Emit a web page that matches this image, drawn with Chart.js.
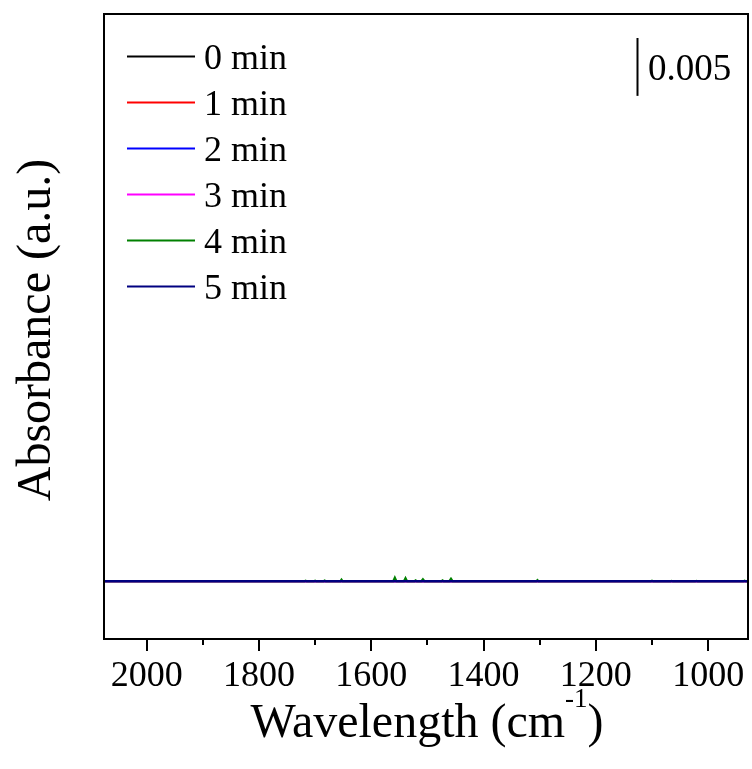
<!DOCTYPE html>
<html>
<head>
<meta charset="utf-8">
<script src="https://cdn.jsdelivr.net/npm/chart.js@4/dist/chart.umd.min.js"></script>
<style>
  html, body { margin: 0; padding: 0; background: #fff; }
  canvas { display: block; }
</style>
</head>
<body>
<canvas id="c" width="752" height="769"></canvas>
<script>
// ---- data ----
const seriesNames = ['0 min', '1 min', '2 min', '3 min', '4 min', '5 min'];
const seriesColors = ['#000000', '#ff0000', '#0000ff', '#ff00ff', '#008000', '#000080'];

// flat baselines (0, 1, 2, 3, 5 min)
const baselineWavenumbers = [2076, 929];
const min0 = [0, 0];
const min1 = [0, 0];
const min2 = [0, 0];
const min3 = [0, 0];
const min5 = [0, 0];

// 4 min spectrum: small sharp features
const wavenumbers4 = [2076,
  1719, 1717, 1715, 1702, 1700, 1698, 1685, 1683, 1681,
  1655, 1653, 1651, 1561, 1558, 1555, 1542, 1539, 1536,
  1523, 1521, 1519, 1511, 1508, 1505, 1475, 1473, 1471,
  1461, 1458, 1455, 1306, 1304, 1302, 1102, 1100, 1098,
  1067, 1065, 1063, 1023, 1021, 1019, 937, 935, 933,
  929];
const min4 = [0,
  0, 0.00005, 0, 0, 0.00005, 0, 0, 0.00006, 0,
  0, 0.00014, 0, 0, 0.00032, 0, 0, 0.00028, 0,
  0, 0.00008, 0, 0, 0.00018, 0, 0, 0.00007, 0,
  0, 0.00022, 0, 0, 0.00010, 0, 0, 0.00004, 0,
  0, 0.00003, 0, 0, 0.00003, 0, 0, 0.00004, 0,
  0];

const xMin = 929, xMax = 2076;
const yMin = -0.005, yMax = 0.049;
const majorTicks = [2000, 1800, 1600, 1400, 1200, 1000];
const minorTicks = [1900, 1700, 1500, 1300, 1100];
const scaleBarValue = 0.005;
const scaleBarLabel = '0.005';
const xTitle = 'Wavelength (cm';
const xTitleSup = '-1';
const xTitleEnd = ')';
const yTitle = 'Absorbance (a.u.)';

function pts(xs, ys) { return xs.map((w, i) => ({ x: w, y: ys[i] })); }

const seriesData = [
  pts(baselineWavenumbers, min0),
  pts(baselineWavenumbers, min1),
  pts(baselineWavenumbers, min2),
  pts(baselineWavenumbers, min3),
  pts(wavenumbers4, min4),
  pts(baselineWavenumbers, min5)
];
const drawOrder = [6, 5, 4, 3, 1, 0]; // 5 min on top

const SERIF = "'Liberation Serif', 'Times New Roman', serif";

const decorPlugin = {
  id: 'decor',
  afterDraw(chart) {
    const { ctx, chartArea: a, scales } = chart;
    const x = scales.x, y = scales.y;
    ctx.save();
    ctx.strokeStyle = '#000';
    ctx.fillStyle = '#000';
    // frame
    ctx.lineWidth = 2;
    ctx.strokeRect(a.left, a.top, a.right - a.left, a.bottom - a.top);
    // ticks
    const tick = (v, len) => {
      const px = Math.round(x.getPixelForValue(v));
      ctx.beginPath(); ctx.moveTo(px, a.bottom); ctx.lineTo(px, a.bottom + len); ctx.stroke();
    };
    majorTicks.forEach(v => tick(v, 12));
    minorTicks.forEach(v => tick(v, 6));
    // legend
    ctx.font = '36px ' + SERIF;
    ctx.textBaseline = 'alphabetic';
    ctx.textAlign = 'left';
    seriesNames.forEach((n, i) => {
      const ly = 56.5 + i * 46;
      ctx.strokeStyle = seriesColors[i];
      ctx.lineWidth = 2.2;
      ctx.beginPath(); ctx.moveTo(127, ly); ctx.lineTo(195, ly); ctx.stroke();
      ctx.fillText(n, 204, ly + 12);
    });
    // scale bar
    const barLen = y.getPixelForValue(0) - y.getPixelForValue(scaleBarValue);
    ctx.strokeStyle = '#000';
    ctx.lineWidth = 2;
    ctx.beginPath(); ctx.moveTo(637.5, 38); ctx.lineTo(637.5, 38 + barLen); ctx.stroke();
    ctx.font = '37px ' + SERIF;
    ctx.fillText(scaleBarLabel, 648, 80);
    // x title with superscript
    ctx.font = '48px ' + SERIF;
    const w1 = ctx.measureText(xTitle).width;
    const w3 = ctx.measureText(xTitleEnd).width;
    ctx.font = '27px ' + SERIF;
    const w2 = ctx.measureText(xTitleSup).width;
    const total = w1 + w2 + w3;
    let tx = 427 - total / 2;
    ctx.font = '48px ' + SERIF;
    ctx.fillText(xTitle, tx, 737);
    ctx.font = '27px ' + SERIF;
    ctx.fillText(xTitleSup, tx + w1, 707);
    ctx.font = '48px ' + SERIF;
    ctx.fillText(xTitleEnd, tx + w1 + w2, 737);
    // y title
    ctx.font = '48px ' + SERIF;
    ctx.translate(50, 330);
    ctx.rotate(-Math.PI / 2);
    ctx.textAlign = 'center';
    ctx.fillText(yTitle, 0, 0);
    ctx.restore();
  }
};

new Chart(document.getElementById('c'), {
  type: 'line',
  data: {
    datasets: seriesNames.map((n, i) => ({
      label: n,
      data: seriesData[i],
      borderColor: seriesColors[i],
      backgroundColor: seriesColors[i],
      borderWidth: i === 5 ? 2.2 : 2,
      pointRadius: 0,
      tension: 0,
      fill: false,
      order: drawOrder[i]
    }))
  },
  options: {
    responsive: false,
    animation: false,
    devicePixelRatio: 1,
    layout: { padding: { left: 104, right: 4, top: 14, bottom: 0 } },
    plugins: { legend: { display: false }, tooltip: { enabled: false } },
    scales: {
      x: {
        type: 'linear',
        reverse: true,
        min: xMin,
        max: xMax,
        afterBuildTicks(scale) { scale.ticks = majorTicks.map(v => ({ value: v })); },
        afterFit(scale) { scale.height = 130; scale.paddingLeft = 0; scale.paddingRight = 0; },
        grid: { display: false, drawTicks: false },
        border: { display: false },
        ticks: {
          color: '#000',
          font: { family: SERIF, size: 36 },
          padding: 16,
          maxRotation: 0,
          autoSkip: false,
          callback: (v) => String(v)
        }
      },
      y: {
        display: false,
        min: yMin,
        max: yMax
      }
    }
  },
  plugins: [decorPlugin]
});
</script>
</body>
</html>
